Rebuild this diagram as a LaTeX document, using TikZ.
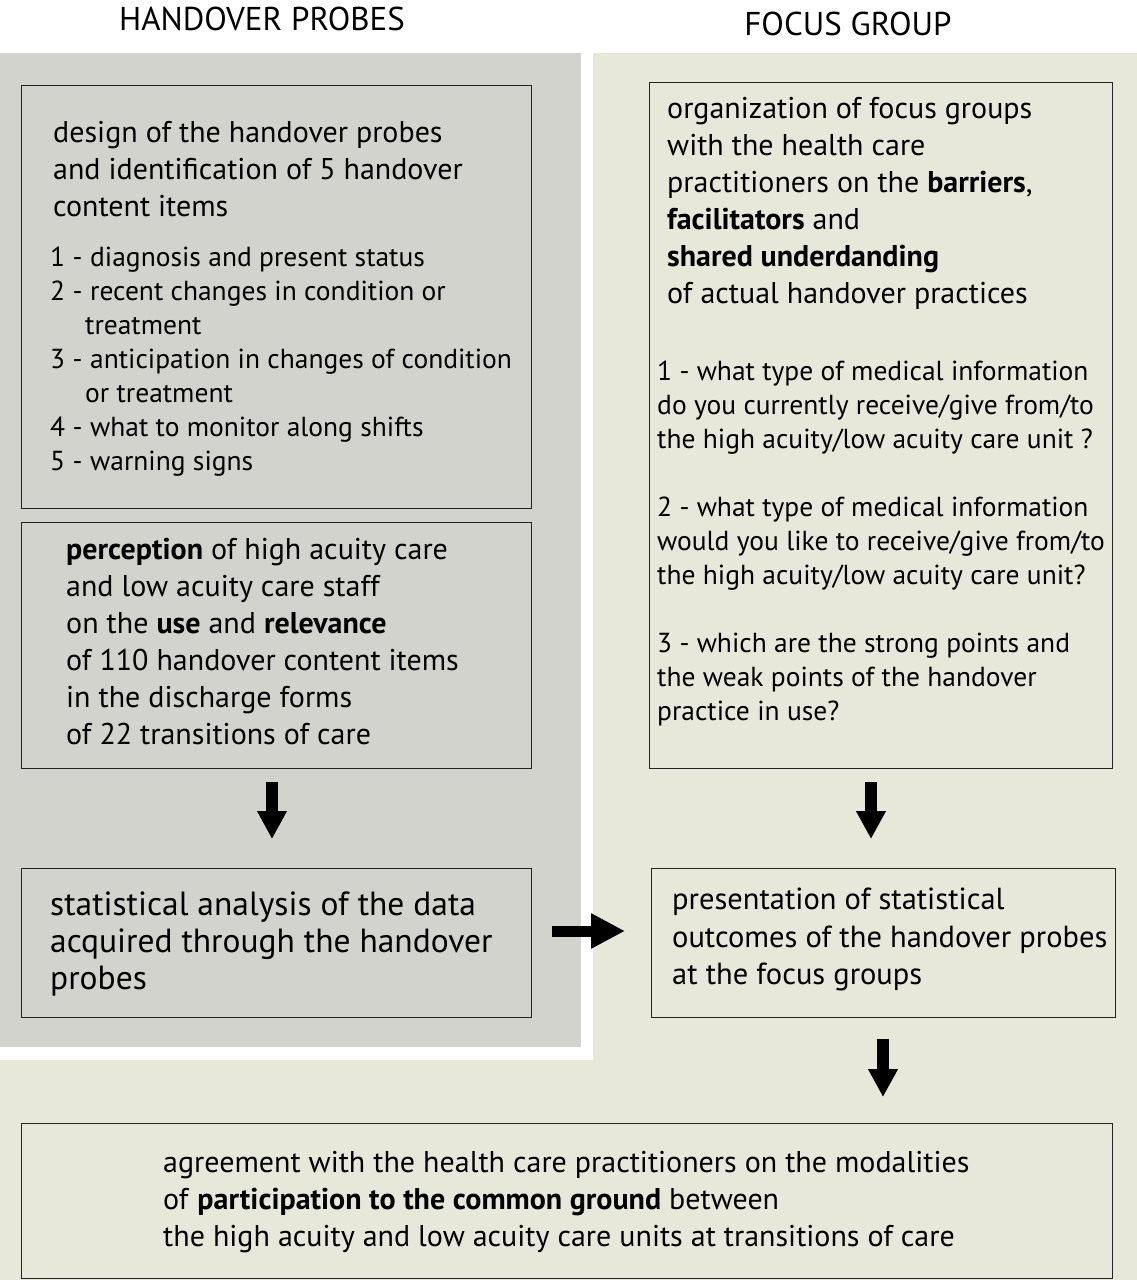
\documentclass[tikz,border=0pt]{standalone}
\usepackage{fontspec}
\setmainfont{PT Sans}
\usetikzlibrary{arrows.meta}
\definecolor{graypanel}{RGB}{211,211,206}
\definecolor{beigepanel}{RGB}{232,232,218}
\definecolor{boxline}{RGB}{35,35,35}
\tikzset{
  boxnode/.style={draw=boxline, line width=1.4pt, rectangle, anchor=north west, inner sep=0pt},
  bigtxt/.style={anchor=north west, inner sep=0pt, align=left, font=\fontsize{30}{37}\selectfont},
  smalltxt/.style={anchor=north west, inner sep=0pt, align=left, font=\fontsize{27.5}{34}\selectfont},
  titletxt/.style={inner sep=0pt, font=\fontsize{33}{38}\selectfont},
  bigarrow/.style={line width=12pt, -{Triangle[length=28pt,width=28pt]}},
  bigarrowh/.style={line width=11pt, -{Triangle[length=34pt,width=33pt]}}
}
\begin{document}
\begin{tikzpicture}[x=1pt,y=-1pt]
\useasboundingbox (0,0) rectangle (1137,1280);
% panels
\fill[white] (0,0) rectangle (1137,1280);
\fill[beigepanel] (593,53) -- (1137,53) -- (1137,1280) -- (0,1280) -- (0,1060) -- (593,1060) -- cycle;
\fill[graypanel] (0,53) rectangle (581,1047);
% titles
\node[titletxt] (t1) at (262,19) {HANDOVER PROBES};
\node[titletxt] (t2) at (848,24) {FOCUS GROUP};
% boxes
\node[boxnode, minimum width=510pt, minimum height=423pt] (box1) at (21,85) {};
\node[boxnode, minimum width=510pt, minimum height=246pt] (box2) at (21,522) {};
\node[boxnode, minimum width=510pt, minimum height=149pt] (box3) at (21,868) {};
\node[boxnode, minimum width=463pt, minimum height=686pt] (box4) at (649,82) {};
\node[boxnode, minimum width=464pt, minimum height=149pt] (box5) at (651,868) {};
\node[boxnode, minimum width=1091pt, minimum height=155pt] (box6) at (21,1123) {};
% texts
\node[bigtxt] (tx1) at (53,121) {design of the handover probes\\and identification of 5 handover\\content items};
\node[smalltxt] (tx1l) at (50,247) {\makebox[40pt][l]{1 -}diagnosis and present status\\
\makebox[40pt][l]{2 -}recent changes in condition or\\
\hspace*{35pt}treatment\\
\makebox[40pt][l]{3 -}anticipation in changes of condition\\
\hspace*{35pt}or treatment\\
\makebox[40pt][l]{4 -}what to monitor along shifts\\
\makebox[40pt][l]{5 -}warning signs};
\node[bigtxt] (tx2) at (66,538) {\textbf{perception} of high acuity care\\and low acuity care staff\\on the \textbf{use} and \textbf{relevance}\\of 110 handover content items\\in the discharge forms\\of 22 transitions of care};
\node[bigtxt, font=\fontsize{33.5}{37}\selectfont] (tx3) at (50,892) {statistical analysis of the data\\acquired through the handover\\probes};
\node[bigtxt] (tx4) at (667,97) {organization of focus groups\\with the health care\\practitioners on the \textbf{barriers},\\\textbf{facilitators} and\\\textbf{shared underdanding}\\of actual handover practices};
\node[smalltxt] (tx4q) at (657,361) {1 - what type of medical information\\do you currently receive/give from/to\\the high acuity/low acuity care unit ?\\[34pt]
2 - what type of medical information\\would you like to receive/give from/to\\the high acuity/low acuity care unit?\\[34pt]
3 - which are the strong points and\\the weak points of the handover\\practice in use?};
\node[bigtxt, font=\fontsize{30.5}{37.5}\selectfont] (tx5) at (672,888) {presentation of statistical\\outcomes of the handover probes\\at the focus groups};
\node[bigtxt] (tx6) at (163,1151) {agreement with the health care practitioners on the modalities\\of \textbf{participation to the common ground} between\\the high acuity and low acuity care units at transitions of care};
% arrows
\coordinate (a1s) at (272,782);
\coordinate (a1e) at (272,839);
\coordinate (a2s) at (871,782);
\coordinate (a2e) at (871,839);
\coordinate (a3s) at (552,931);
\coordinate (a3e) at (625,931);
\coordinate (a4s) at (883,1039);
\coordinate (a4e) at (883,1097);
\draw[bigarrow] (a1s) -- (a1e);
\draw[bigarrow] (a2s) -- (a2e);
\draw[bigarrowh] (a3s) -- (a3e);
\draw[bigarrow] (a4s) -- (a4e);
\end{tikzpicture}
\end{document}
